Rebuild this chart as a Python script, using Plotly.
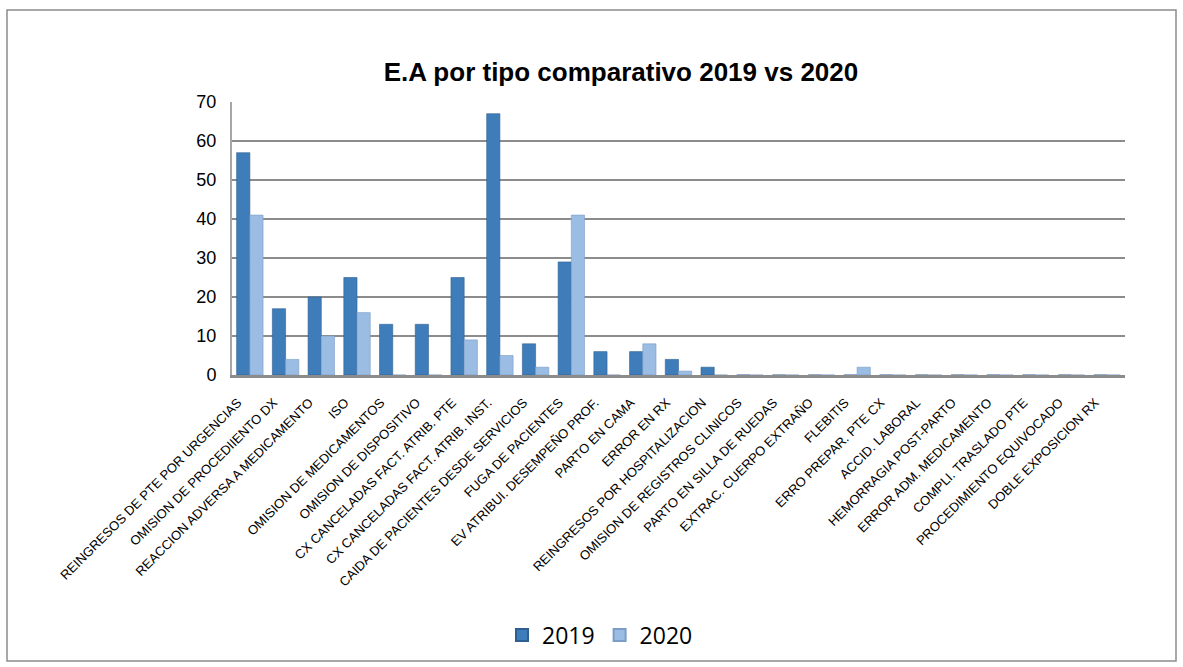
import plotly.graph_objects as go

categories = [
    "REINGRESOS DE PTE POR URGENCIAS",
    "OMISION DE PROCEDIIENTO DX",
    "REACCION ADVERSA A MEDICAMENTO",
    "ISO",
    "OMISION DE MEDICAMENTOS",
    "OMISION DE DISPOSITIVO",
    "CX CANCELADAS FACT. ATRIB. PTE",
    "CX CANCELADAS FACT. ATRIB. INST.",
    "CAIDA DE PACIENTES DESDE SERVICIOS",
    "FUGA DE PACIENTES",
    "EV ATRIBUI. DESEMPEÑO PROF.",
    "PARTO EN CAMA",
    "ERROR EN RX",
    "REINGRESOS POR HOSPITALIZACION",
    "OMISION DE REGISTROS CLINICOS",
    "PARTO EN SILLA DE RUEDAS",
    "EXTRAC. CUERPO EXTRAÑO",
    "FLEBITIS",
    "ERRO PREPAR. PTE CX",
    "ACCID. LABORAL",
    "HEMORRAGIA POST-PARTO",
    "ERROR ADM. MEDICAMENTO",
    "COMPLI. TRASLADO PTE",
    "PROCEDIMIENTO EQUIVOCADO",
    "DOBLE EXPOSICION RX",
]

values_2019 = [57, 17, 20, 25, 13, 13, 25, 67, 8, 29, 6, 6, 4, 2,
               0, 0, 0, 0, 0, 0, 0, 0, 0, 0, 0]
values_2020 = [41, 4, 10, 16, 0, 0, 9, 5, 2, 41, 0, 8, 1, 0,
               0, 0, 0, 2, 0, 0, 0, 0, 0, 0, 0]

y_ticks = [0, 10, 20, 30, 40, 50, 60, 70]

W, H = 1183, 667
left, right, top, bottom = 232, 1125, 102, 375

fig = go.Figure()
fig.add_trace(go.Bar(
    name="2019", x=categories, y=values_2019,
    marker=dict(color="#3F7DBA", line=dict(color="#2E5F90", width=0.6)),
))
fig.add_trace(go.Bar(
    name="2020", x=categories, y=values_2020,
    marker=dict(color="#9BBCE3", line=dict(color="#7A9CC6", width=0.6)),
))

# outer chart frame, expressed in paper coordinates of the plot area
pw, ph = right - left, bottom - top
def px_x(x):
    return (x - left) / pw
def px_y(y):
    return (bottom - y) / ph

fig.add_shape(type="rect", xref="paper", yref="paper",
              x0=px_x(7), x1=px_x(1176), y0=px_y(661), y1=px_y(10),
              line=dict(color="#8C8C8C", width=1.5), fillcolor="rgba(0,0,0,0)",
              layer="below")

fig.update_layout(
    width=W, height=H,
    margin=dict(l=left, r=W - right, t=top, b=H - bottom),
    paper_bgcolor="white", plot_bgcolor="white",
    barmode="group", bargap=0.26, bargroupgap=0.0,
    title=dict(text="<b>E.A por tipo comparativo 2019 vs 2020</b>",
               x=621 / W, xanchor="center", y=1 - 72 / H, yanchor="middle",
               yref="container",
               font=dict(family="Liberation Sans, Arial", size=26, color="black")),
    font=dict(family="Liberation Sans, Arial", color="black"),
    showlegend=True,
    legend=dict(orientation="h", x=600 / W, xanchor="center",
                y=1 - 635 / H, yanchor="middle", yref="container",
                xref="container",
                font=dict(family="Open Sans, Liberation Sans", size=23),
                itemsizing="constant", traceorder="normal"),
    xaxis=dict(
        type="category", tickangle=-45,
        tickfont=dict(family="Liberation Sans, Arial", size=13, color="black"),
        ticklabelstandoff=12, ticklabelshift=-12,
        showline=True, linecolor="#8C8C8C", linewidth=3,
        showgrid=False, ticks="",
    ),
    yaxis=dict(
        range=[0, 70], tickvals=y_ticks, ticks="",
        tickfont=dict(family="Liberation Sans, Arial", size=18, color="black"),
        ticklabelstandoff=10,
        showgrid=True, gridcolor="#8C8C8C", gridwidth=2,
        showline=True, linecolor="#A6A6A6", linewidth=2,
        zeroline=False,
    ),
)

fig.write_html("out.html")
